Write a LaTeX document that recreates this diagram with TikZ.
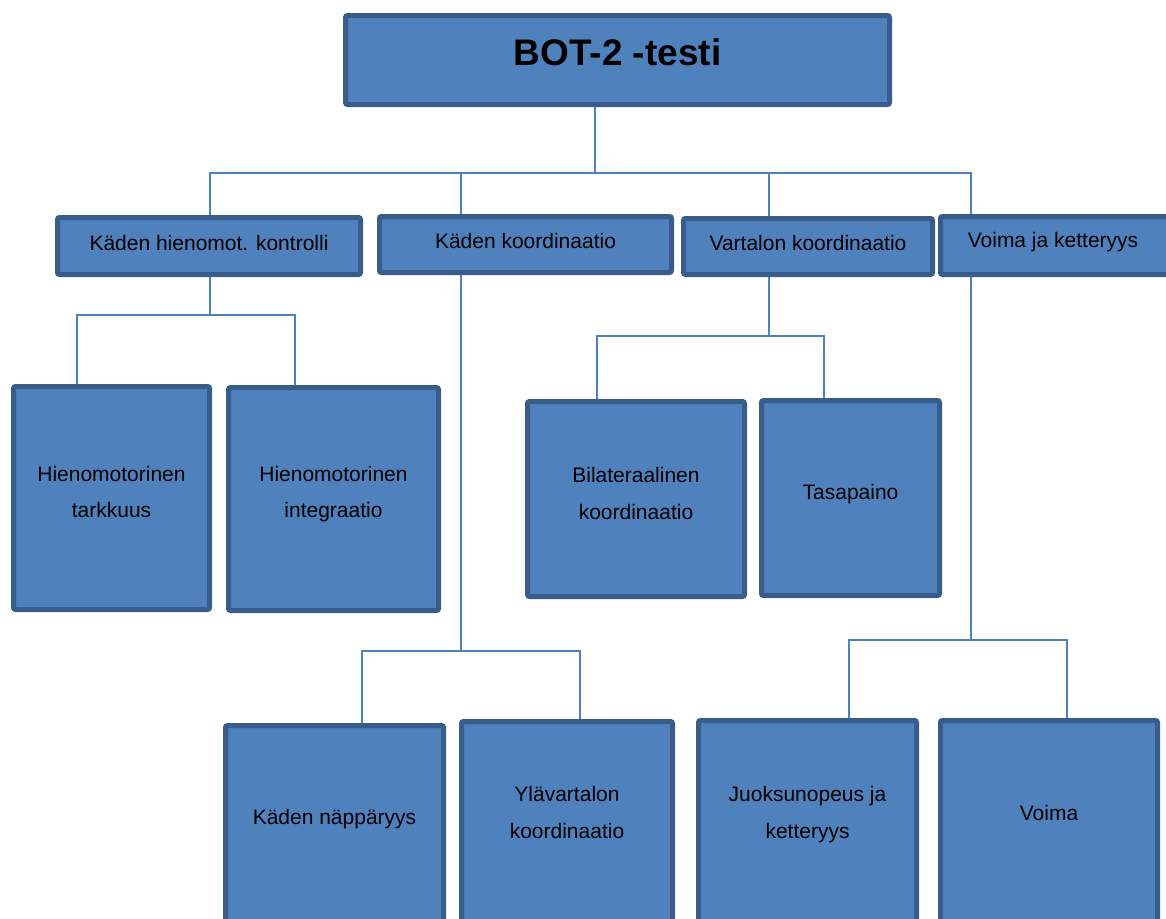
\documentclass[tikz,border=0pt]{standalone}
\usepackage{fontspec}
\setmainfont{Liberation Sans}
\definecolor{boxfill}{HTML}{4F81BD}
\definecolor{boxline}{HTML}{385D8A}
\definecolor{conn}{HTML}{4F81BD}
\begin{document}
\begin{tikzpicture}[x=1pt,y=-1pt,
  box/.style={draw=boxline, fill=boxfill, line width=5pt, rounded corners=2pt, inner sep=0pt},
  txt/.style={anchor=base, inner sep=0pt, font=\fontsize{21}{25}\selectfont, text=black},
  link/.style={draw=conn, line width=1.8pt}]
\useasboundingbox (0,0) rectangle (1166,918);

% boxes
\node[box, minimum width=544pt, minimum height=89pt] (top) at (617.5,60) {};
\node[box, minimum width=303pt, minimum height=57pt] (A) at (209,246) {};
\node[box, minimum width=292pt, minimum height=56pt] (B) at (525.5,244.5) {};
\node[box, minimum width=249pt, minimum height=56pt] (C) at (808,246.5) {};
\node[box, minimum width=237pt, minimum height=58pt] (D) at (1059,245.5) {};
\node[box, minimum width=196pt, minimum height=223pt] (HT) at (111.5,498) {};
\node[box, minimum width=210pt, minimum height=223pt] (HI) at (333.5,499) {};
\node[box, minimum width=217pt, minimum height=195pt] (BK) at (636,499) {};
\node[box, minimum width=178pt, minimum height=195pt] (TP) at (850.5,498) {};
\node[box, minimum width=218pt, minimum height=202pt] (KN) at (334.5,826.5) {};
\node[box, minimum width=211pt, minimum height=206pt] (YK) at (567,824.5) {};
\node[box, minimum width=218pt, minimum height=207pt] (JK) at (807.5,824) {};
\node[box, minimum width=217pt, minimum height=207pt] (V) at (1049,824) {};

% texts
\node[txt, font=\bfseries\fontsize{37}{44}\selectfont] (topt) at (617.5,65) {BOT-2 -testi};
\node[txt] (At) at (209,250) {Käden hienomot. kontrolli};
\node[txt] (Bt) at (525.5,248.3) {Käden koordinaatio};
\node[txt] (Ct) at (808,250) {Vartalon koordinaatio};
\node[txt] (Dt) at (1053,247.3) {Voima ja ketteryys};
\node[txt] (HTa) at (111.5,481) {Hienomotorinen};
\node[txt] (HTb) at (111.5,517.7) {tarkkuus};
\node[txt] (HIa) at (333.5,481) {Hienomotorinen};
\node[txt] (HIb) at (333.5,517.7) {integraatio};
\node[txt] (BKa) at (636,482.3) {Bilateraalinen};
\node[txt] (BKb) at (636,519) {koordinaatio};
\node[txt] (TPt) at (850.5,499) {Tasapaino};
\node[txt] (KNt) at (334.5,824) {Käden näppäryys};
\node[txt] (YKa) at (567,801.7) {Ylävartalon};
\node[txt] (YKb) at (567,838.3) {koordinaatio};
\node[txt] (JKa) at (807.5,801.7) {Juoksunopeus ja};
\node[txt] (JKb) at (807.5,838.3) {ketteryys};
\node[txt] (Vt) at (1049,820) {Voima};

% connectors level 1
\coordinate (bus) at (595,173);
\coordinate (busL) at (210,173);
\coordinate (busR) at (971,173);
\coordinate (dB) at (461,173);
\coordinate (dC) at (769,173);
\draw[link] (top.south -| bus) -- (bus);
\draw[link] (A.north -| busL) -- (busL) -- (busR) -- (D.north -| busR);
\draw[link] (dB) -- (B.north -| dB);
\draw[link] (dC) -- (C.north -| dC);

% connectors level 2
\coordinate (jA) at (210,315);
\coordinate (jAL) at (77,315);
\coordinate (jAR) at (295,315);
\draw[link] (A.south -| jA) -- (jA);
\draw[link] (HT.north -| jAL) -- (jAL) -- (jAR) -- (HI.north -| jAR);

\coordinate (jB) at (461,651);
\coordinate (jBL) at (362,651);
\coordinate (jBR) at (580,651);
\draw[link] (B.south -| jB) -- (jB);
\draw[link] (KN.north -| jBL) -- (jBL) -- (jBR) -- (YK.north -| jBR);

\coordinate (jC) at (769,336);
\coordinate (jCL) at (597,336);
\coordinate (jCR) at (824,336);
\draw[link] (C.south -| jC) -- (jC);
\draw[link] (BK.north -| jCL) -- (jCL) -- (jCR) -- (TP.north -| jCR);

\coordinate (jD) at (971,640);
\coordinate (jDL) at (849,640);
\coordinate (jDR) at (1067,640);
\draw[link] (D.south -| jD) -- (jD);
\draw[link] (JK.north -| jDL) -- (jDL) -- (jDR) -- (V.north -| jDR);
\end{tikzpicture}
\end{document}
